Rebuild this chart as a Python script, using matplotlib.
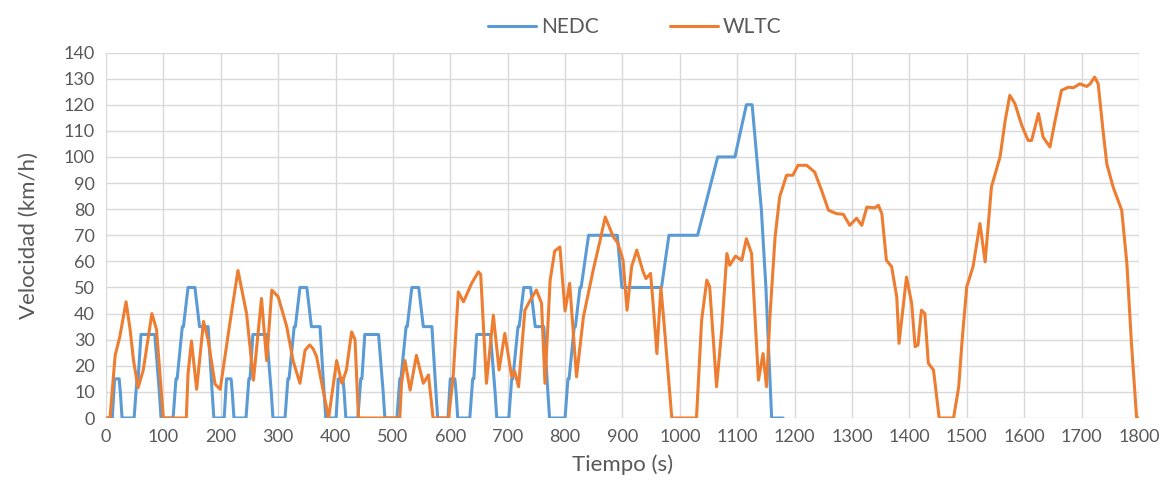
import matplotlib
matplotlib.use('Agg')
import matplotlib.pyplot as plt

plt.rcParams['font.family'] = ['Lato', 'DejaVu Sans']

# NEDC: 4 x ECE-15 + EUDC, breakpoints (s, km/h)
nedc_t = [0, 11, 15, 23, 25, 28, 49, 54, 56, 61, 85, 93, 96, 117, 122, 124, 133, 135, 143, 155, 163, 178, 185, 188,
          195, 206, 210, 218, 220, 223, 244, 249, 251, 256, 280, 288, 291, 312, 317, 319, 328, 330, 338, 350, 358, 373, 380, 383,
          390, 401, 405, 413, 415, 418, 439, 444, 446, 451, 475, 483, 486, 507, 512, 514, 523, 525, 533, 545, 553, 568, 575, 578,
          585, 596, 600, 608, 610, 613, 634, 639, 641, 646, 670, 678, 681, 702, 707, 709, 718, 720, 728, 740, 748, 763, 770, 773,
          780, 800, 805, 807, 816, 818, 826, 828, 841, 891, 899, 968, 981, 1031, 1066, 1096, 1116, 1126, 1142, 1150, 1160, 1180]
nedc_v = [0, 0, 15, 15, 10, 0, 0, 15, 15, 32, 32, 10, 0, 0, 15, 15, 35, 35, 50, 50, 35, 35, 10, 0,
          0, 0, 15, 15, 10, 0, 0, 15, 15, 32, 32, 10, 0, 0, 15, 15, 35, 35, 50, 50, 35, 35, 10, 0,
          0, 0, 15, 15, 10, 0, 0, 15, 15, 32, 32, 10, 0, 0, 15, 15, 35, 35, 50, 50, 35, 35, 10, 0,
          0, 0, 15, 15, 10, 0, 0, 15, 15, 32, 32, 10, 0, 0, 15, 15, 35, 35, 50, 50, 35, 35, 10, 0,
          0, 0, 15, 15, 35, 35, 50, 50, 70, 70, 50, 50, 70, 70, 100, 100, 120, 120, 80, 50, 0, 0]

# WLTC class 3
wltc_t = [0, 7, 16, 24, 35, 42, 48, 56, 65, 80, 88, 100, 140, 143, 149, 158, 170, 178, 190, 199,
          215, 230, 245, 257, 271, 280, 289, 300, 315, 326, 338, 347, 355, 361, 367, 376, 388,
          402, 411, 419, 428, 434, 440, 512, 515, 521, 530, 541, 553, 562, 570, 597, 605, 614,
          623, 637, 649, 653, 663, 675, 685, 695, 707, 712, 719, 730, 739, 750, 759, 765, 774,
          782, 791, 800, 808, 820, 832, 849, 861, 870, 884, 892, 901, 908, 916, 925, 936, 941,
          949, 953, 960, 967, 973, 986, 1029, 1038, 1047, 1052, 1064, 1073, 1082, 1087, 1097,
          1108, 1116, 1125, 1137, 1145, 1151, 1157, 1166, 1174, 1186, 1197, 1206, 1221, 1235,
          1247, 1259, 1273, 1285, 1296, 1308, 1317, 1326, 1340, 1346, 1352, 1360, 1369, 1378,
          1382, 1395, 1404, 1410, 1415, 1421, 1427, 1433, 1442, 1452, 1477, 1486, 1492, 1500,
          1511, 1523, 1532, 1543, 1558, 1567, 1575, 1584, 1596, 1607, 1613, 1625, 1633, 1645,
          1654, 1665, 1677, 1686, 1697, 1709, 1715, 1723, 1729, 1738, 1744, 1755, 1770, 1779,
          1787, 1796, 1800]
wltc_v = [0, 0, 24, 31, 44.5, 34, 22, 11.6, 18.4, 40, 34, 0, 0, 17, 29.5, 11, 37, 30, 13, 11,
          35, 56.5, 40, 14.5, 45.8, 22, 49, 46.5, 35, 22, 13.3, 26, 28, 26.5, 23.5, 13.3, 0,
          22, 13.3, 18.4, 33, 30, 0, 0, 13.3, 22, 10.7, 24, 13.3, 16.5, 0, 0, 15.8, 48.3,
          44.5, 51.5, 56, 55, 13.3, 39.4, 18.4, 32.4, 15.8, 18, 12, 41.3, 45, 49, 44, 13.3, 52.8,
          64, 65.5, 41, 51.6, 15.8, 38.8, 56.6, 68, 77, 69.4, 67, 60.5, 41.3, 58, 64.3, 56, 53.4,
          55.4, 45, 24.7, 50, 35, 0, 0, 37.5, 52.8, 50.3, 12, 33.7, 63, 58.5, 62,
          60.4, 68.7, 63, 14.5, 24.7, 12, 38.8, 69.4, 84.7, 93, 93, 96.8, 96.8, 94.2,
          87.2, 79.6, 78.3, 78, 73.8, 76.5, 73.8, 80.8, 80.5, 81.5, 78.3, 60.4, 58, 46.4,
          28.6, 54, 43.9, 27.3, 28, 41.3, 40, 21, 18.4, 0, 0, 12, 30, 50.3,
          58, 74.5, 59.8, 88.5, 100, 114, 123.6, 120.4, 112, 106.3, 106.3, 116.6, 107.6, 103.8,
          114, 125.5, 126.7, 126.5, 128, 127, 128, 130.6, 128, 109, 97.4, 88.5, 79.6, 59.2,
          28.6, 0, 0]

fig = plt.figure(figsize=(11.71, 4.88), dpi=100)
ax = fig.add_axes([0.0905, 0.1434, 0.8821, 0.749])

ax.plot(nedc_t, nedc_v, color='#5B9BD5', lw=2.2, label='NEDC',
        solid_joinstyle='round', solid_capstyle='round')
ax.plot(wltc_t, wltc_v, color='#ED7D31', lw=2.2, label='WLTC',
        solid_joinstyle='round', solid_capstyle='round')

ax.set_xlim(0, 1800)
ax.set_ylim(0, 140)
ax.set_xticks(range(0, 1801, 100))
ax.set_yticks(range(0, 141, 10))
ax.grid(True, color='#D9D9D9', lw=1)
ax.set_axisbelow(True)
for s in ax.spines.values():
    s.set_visible(False)
ax.tick_params(length=0, labelsize=13, colors='#595959', pad=8)

ax.set_xlabel('Tiempo (s)', fontsize=16, color='#595959', labelpad=7)
ax.set_ylabel('Velocidad (km/h)', fontsize=16, color='#595959', labelpad=18)

fig.legend(loc='center', bbox_to_anchor=(0.542, 0.945), ncol=2, frameon=False,
           fontsize=15, handlelength=2.3, handletextpad=0.25, columnspacing=3.4,
           labelcolor='#595959')

fig.savefig('out.png', dpi=100)
